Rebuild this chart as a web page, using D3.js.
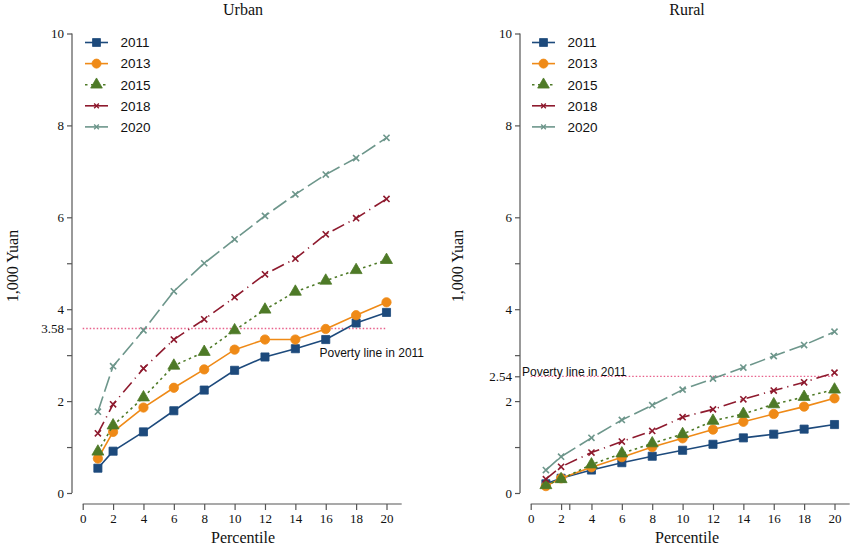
<!DOCTYPE html>
<html>
<head>
<meta charset="utf-8">
<script src="https://cdn.jsdelivr.net/npm/d3@7/dist/d3.min.js"></script>
<style>
  html, body { margin: 0; padding: 0; background: #fff; }
  svg { display: block; }
</style>
</head>
<body>
<script>
// ---- data ----
const percentiles = [1, 2, 4, 6, 8, 10, 12, 14, 16, 18, 20];
const years = ["2011", "2013", "2015", "2018", "2020"];
const urban2011 = [0.54, 0.91, 1.33, 1.79, 2.24, 2.67, 2.96, 3.14, 3.34, 3.70, 3.93];
const urban2013 = [0.75, 1.33, 1.86, 2.29, 2.69, 3.12, 3.34, 3.34, 3.57, 3.87, 4.15];
const urban2015 = [0.90, 1.47, 2.08, 2.77, 3.07, 3.54, 3.99, 4.38, 4.62, 4.85, 5.07];
const urban2018 = [1.30, 1.93, 2.71, 3.34, 3.78, 4.26, 4.76, 5.10, 5.63, 5.98, 6.40];
const urban2020 = [1.77, 2.76, 3.54, 4.39, 5.00, 5.52, 6.03, 6.50, 6.93, 7.29, 7.73];
const rural2011 = [0.20, 0.32, 0.50, 0.66, 0.80, 0.93, 1.06, 1.20, 1.28, 1.39, 1.49];
const rural2013 = [0.15, 0.32, 0.56, 0.78, 1.00, 1.19, 1.38, 1.55, 1.72, 1.88, 2.06];
const rural2015 = [0.17, 0.30, 0.62, 0.86, 1.08, 1.28, 1.57, 1.72, 1.93, 2.09, 2.25];
const rural2018 = [0.30, 0.57, 0.88, 1.12, 1.35, 1.65, 1.82, 2.04, 2.23, 2.41, 2.62];
const rural2020 = [0.50, 0.79, 1.20, 1.59, 1.91, 2.25, 2.49, 2.73, 2.98, 3.22, 3.51];
const xTicks = [0, 2, 4, 6, 8, 10, 12, 14, 16, 18, 20];
const yTicksMajor = [0, 2, 4, 6, 8, 10];
const yTicksMinor = [1, 3, 5];
const urbanPoverty = 3.58;
const ruralPoverty = 2.54;
const povertyLabel = "Poverty line in 2011";

// ---- styles ----
const styles = {
  "2011": { color: "#1d4a7c", dash: null, symbol: d3.symbolSquare, size: 66, kind: "fill" },
  "2013": { color: "#ef8a17", dash: null, symbol: d3.symbolCircle, size: 68, kind: "fill" },
  "2015": { color: "#4e7a27", dash: "2.5,3.5", symbol: d3.symbolTriangle, size: 62, kind: "fill" },
  "2018": { color: "#8e1a2e", dash: "13,5,1.2,5", symbol: d3.symbolX, size: 26, kind: "stroke" },
  "2020": { color: "#6d968b", dash: "16,5", symbol: d3.symbolX, size: 26, kind: "stroke" }
};

const W = 853, H = 545;
const svg = d3.select("body").append("svg").attr("width", W).attr("height", H);

const serif = "'Liberation Serif', 'Times New Roman', serif";
const sans = "'Liberation Sans', Arial, sans-serif";

function drawPanel(cfg) {
  const x = d3.scaleLinear().domain([0, 21]).range([cfg.x0, cfg.x0 + 21 * 15.19]);
  const y = d3.scaleLinear().domain([0, 10]).range([493, 33.5]);
  const g = svg.append("g");

  // y axis
  const yAxis = d3.axisLeft(y)
    .tickValues(yTicksMajor.concat(yTicksMinor).concat([cfg.poverty]))
    .tickSize(5).tickPadding(3)
    .tickFormat(d => yTicksMinor.includes(d) ? "" : (d === cfg.poverty ? d3.format(".2f")(d) : d));
  const ya = g.append("g").attr("transform", `translate(${cfg.yAxisX},0)`).call(yAxis);
  ya.select(".domain").attr("d", `M0,${y(10)}V${y(0)}`);

  // x axis
  const xAxis = d3.axisBottom(x).tickValues(xTicks.concat(cfg.extraXTicks)).tickSize(6).tickPadding(4)
    .tickFormat(d => cfg.extraXTicks.includes(d) ? "" : d);
  const xa = g.append("g").attr("transform", `translate(0,504)`).call(xAxis);
  xa.select(".domain").attr("d", `M${x(0)},0H${x(21)}`);

  [ya, xa].forEach(a => {
    a.selectAll(".domain").attr("stroke", "#555").attr("stroke-width", 1.2);
    a.selectAll(".tick line").attr("stroke", "#555").attr("stroke-width", 1.2);
    a.selectAll("text").attr("font-family", serif).attr("font-size", 13).attr("fill", "#111");
  });

  // poverty line
  g.append("line")
    .attr("x1", x(0)).attr("x2", x(20))
    .attr("y1", y(cfg.poverty)).attr("y2", y(cfg.poverty))
    .attr("stroke", "#e8608a").attr("stroke-width", 1.3).attr("stroke-dasharray", "1.5,2");
  g.append("text").attr("x", cfg.povLabelX).attr("y", cfg.povLabelY)
    .attr("font-family", sans).attr("font-size", 12).attr("fill", "#111")
    .text(povertyLabel);

  // series
  const line = d3.line().x((d, i) => x(percentiles[i])).y(d => y(d));
  cfg.series.forEach((vals, si) => {
    const st = styles[years[si]];
    g.append("path").attr("d", line(vals)).attr("fill", "none")
      .attr("stroke", st.color).attr("stroke-width", 1.6)
      .attr("stroke-dasharray", st.dash);
    const sym = d3.symbol().type(st.symbol).size(st.size);
    g.selectAll(null).data(vals).enter().append("path")
      .attr("transform", (d, i) => `translate(${x(percentiles[i])},${y(d)})`)
      .attr("d", sym())
      .attr("fill", st.kind === "fill" ? st.color : "none")
      .attr("stroke", st.color)
      .attr("stroke-width", st.kind === "fill" ? 0.8 : 1.6);
  });

  // legend
  years.forEach((yr, i) => {
    const st = styles[yr];
    const ly = 42.5 + i * 21.1;
    g.append("line").attr("x1", cfg.legX).attr("x2", cfg.legX + 23)
      .attr("y1", ly).attr("y2", ly).attr("stroke", st.color).attr("stroke-width", 1.6)
      .attr("stroke-dasharray", yr === "2015" ? "2.5,3.5" : null);
    g.append("path").attr("transform", `translate(${cfg.legX + 11.5},${ly})`)
      .attr("d", d3.symbol().type(st.symbol).size(st.kind === "fill" ? st.size * 0.95 : 16)())
      .attr("fill", st.kind === "fill" ? st.color : "none")
      .attr("stroke", st.color).attr("stroke-width", st.kind === "fill" ? 0.8 : 1.4);
    g.append("text").attr("x", cfg.legX + 35.5).attr("y", ly).attr("dy", "0.36em")
      .attr("font-family", sans).attr("font-size", 13.5).attr("fill", "#111").text(yr);
  });

  // titles
  g.append("text").attr("x", cfg.titleX).attr("y", 15).attr("text-anchor", "middle")
    .attr("font-family", serif).attr("font-size", 16).attr("fill", "#111").text(cfg.title);
  g.append("text").attr("x", cfg.titleX).attr("y", 543).attr("text-anchor", "middle")
    .attr("font-family", serif).attr("font-size", 16).attr("fill", "#111").text("Percentile");
  g.append("text").attr("transform", `translate(${cfg.yTitleX},266) rotate(-90)`)
    .attr("text-anchor", "middle")
    .attr("font-family", serif).attr("font-size", 16).attr("fill", "#111").text("1,000 Yuan");
}

drawPanel({
  title: "Urban", x0: 82.7, yAxisX: 72, poverty: urbanPoverty, extraXTicks: [],
  povLabelX: 319.5, povLabelY: 357, legX: 85, titleX: 243, yTitleX: 18,
  series: [urban2011, urban2013, urban2015, urban2018, urban2020]
});
drawPanel({
  title: "Rural", x0: 530.7, yAxisX: 520, poverty: ruralPoverty, extraXTicks: [ruralPoverty],
  povLabelX: 522, povLabelY: 376, legX: 532, titleX: 687, yTitleX: 463,
  series: [rural2011, rural2013, rural2015, rural2018, rural2020]
});
</script>
</body>
</html>
